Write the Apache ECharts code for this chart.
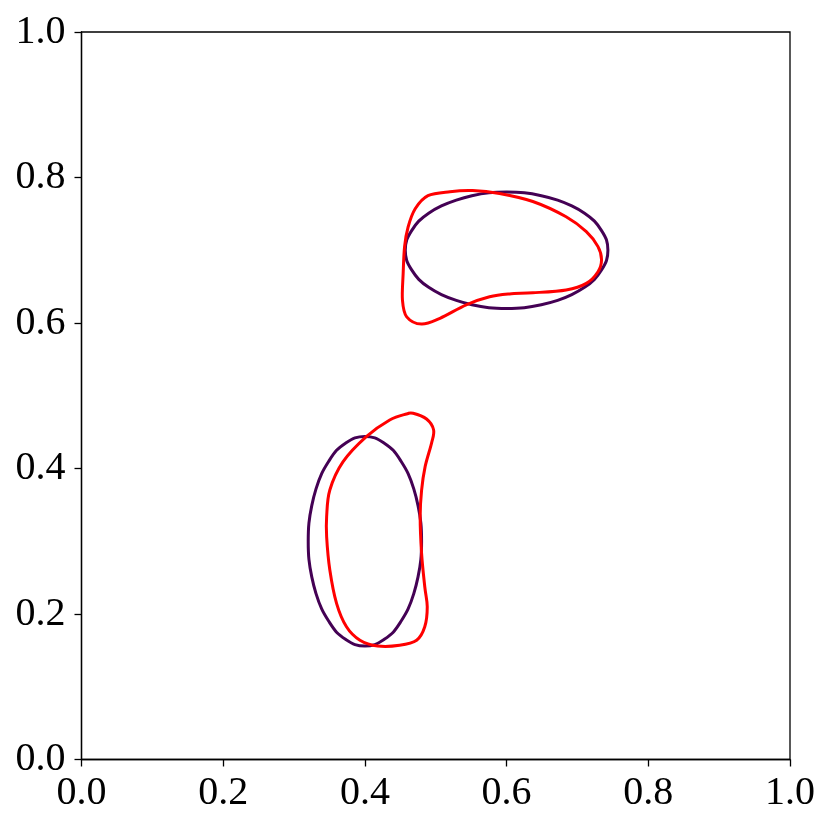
<!DOCTYPE html>
<html>
<head>
<meta charset="utf-8">
<script src="https://cdn.jsdelivr.net/npm/echarts@6/dist/echarts.min.js"></script>
<style>html,body{margin:0;padding:0;background:#fff}#c{width:831px;height:831px}</style>
</head>
<body>
<div id="c"></div>
<script>
const xTicks = [0.0, 0.2, 0.4, 0.6, 0.8, 1.0];
const yTicks = [0.0, 0.2, 0.4, 0.6, 0.8, 1.0];

const upperEllipse = [
  [0.743,0.700],[0.741,0.714],[0.734,0.727],[0.724,0.740],[0.710,0.751],[0.692,0.761],
  [0.672,0.769],[0.649,0.775],[0.625,0.779],[0.600,0.780],[0.575,0.779],[0.551,0.775],
  [0.529,0.769],[0.508,0.761],[0.490,0.751],[0.476,0.740],[0.466,0.727],[0.459,0.714],
  [0.457,0.700],[0.459,0.686],[0.466,0.673],[0.476,0.660],[0.490,0.649],[0.508,0.639],
  [0.529,0.631],[0.551,0.625],[0.575,0.621],[0.600,0.620],[0.625,0.621],[0.649,0.625],
  [0.672,0.631],[0.692,0.639],[0.710,0.649],[0.724,0.660],[0.734,0.673],[0.741,0.686]
];

const lowerEllipse = [
  [0.480,0.300],[0.479,0.325],[0.475,0.349],[0.469,0.372],[0.461,0.393],[0.451,0.410],
  [0.440,0.425],[0.427,0.435],[0.414,0.442],[0.400,0.444],[0.386,0.442],[0.373,0.435],
  [0.360,0.425],[0.349,0.410],[0.339,0.393],[0.331,0.372],[0.325,0.349],[0.321,0.325],
  [0.320,0.300],[0.321,0.275],[0.325,0.251],[0.331,0.228],[0.339,0.207],[0.349,0.190],
  [0.360,0.175],[0.373,0.165],[0.386,0.158],[0.400,0.156],[0.414,0.158],[0.427,0.165],
  [0.440,0.175],[0.451,0.190],[0.461,0.207],[0.469,0.228],[0.475,0.251],[0.479,0.275]
];

const upperRed = [
  [0.604,0.640],[0.576,0.636],[0.543,0.625],[0.506,0.6065],[0.480,0.5985],[0.459,0.6085],
  [0.453,0.6315],[0.454,0.668],[0.456,0.705],[0.461,0.732],[0.471,0.757],[0.489,0.775],
  [0.520,0.7805],[0.552,0.782],[0.590,0.778],[0.637,0.767],[0.684,0.746],[0.7125,0.7255],
  [0.729,0.705],[0.734,0.687],[0.729,0.6705],[0.7125,0.6545],[0.684,0.6455],[0.637,0.6415]
];

const lowerRed = [
  [0.478,0.334],[0.480,0.2834],[0.4845,0.2375],[0.488,0.210],[0.4845,0.1825],[0.473,0.164],
  [0.449,0.157],[0.418,0.156],[0.393,0.164],[0.374,0.1825],[0.360,0.2147],[0.3505,0.2605],
  [0.346,0.306],[0.346,0.334],[0.3505,0.3704],[0.369,0.409],[0.402,0.4437],[0.435,0.4667],
  [0.4587,0.475],[0.468,0.476],[0.487,0.468],[0.497,0.453],[0.494,0.4346],[0.485,0.4025],
  [0.480,0.370]
];

const FONT = 'Liberation Serif';
const labelStyle = { color: '#000', fontFamily: FONT, fontSize: 40 };

function axis(ticks, isX) {
  return {
    type: 'value',
    min: ticks[0],
    max: ticks[ticks.length - 1],
    interval: 0.2,
    axisLine: { show: true, lineStyle: { color: '#000', width: 1.3 } },
    axisTick: { show: true, inside: false, length: 7, lineStyle: { color: '#000', width: 1.3 } },
    splitLine: { show: false },
    axisLabel: Object.assign({
      margin: isX ? 14 : 16,
      formatter: v => v.toFixed(1)
    }, labelStyle)
  };
}

// closed smooth curve through the data points (Catmull-Rom), positioned via the axes
function closedCurve(data, color) {
  return {
    type: 'custom',
    data: data,
    encode: { x: 0, y: 1 },
    clip: false,
    animation: false,
    renderItem: function (params, api) {
      if (params.dataIndex !== 0) return null;
      const p = data.map(d => api.coord(d));
      const n = p.length;
      let d = 'M' + p[0][0] + ' ' + p[0][1];
      for (let i = 0; i < n; i++) {
        const p0 = p[(i - 1 + n) % n], p1 = p[i], p2 = p[(i + 1) % n], p3 = p[(i + 2) % n];
        const c1x = p1[0] + (p2[0] - p0[0]) / 6, c1y = p1[1] + (p2[1] - p0[1]) / 6;
        const c2x = p2[0] - (p3[0] - p1[0]) / 6, c2y = p2[1] - (p3[1] - p1[1]) / 6;
        d += ' C' + c1x + ' ' + c1y + ' ' + c2x + ' ' + c2y + ' ' + p2[0] + ' ' + p2[1];
      }
      d += ' Z';
      return {
        type: 'path',
        shape: { pathData: d },
        style: { fill: null, stroke: color, lineWidth: 3, lineJoin: 'round' }
      };
    }
  };
}

const chart = echarts.init(document.getElementById('c'), null, { renderer: 'canvas' });
chart.setOption({
  animation: false,
  backgroundColor: '#fff',
  grid: { left: 81.5, right: 41, top: 32, bottom: 71.5, containLabel: false,
          show: true, borderColor: '#000', borderWidth: 1.3, backgroundColor: 'transparent' },
  xAxis: axis(xTicks, true),
  yAxis: axis(yTicks, false),
  series: [
    closedCurve(upperEllipse, '#440154'),
    closedCurve(lowerEllipse, '#440154'),
    closedCurve(upperRed, '#ff0000'),
    closedCurve(lowerRed, '#ff0000')
  ]
});
</script>
</body>
</html>
